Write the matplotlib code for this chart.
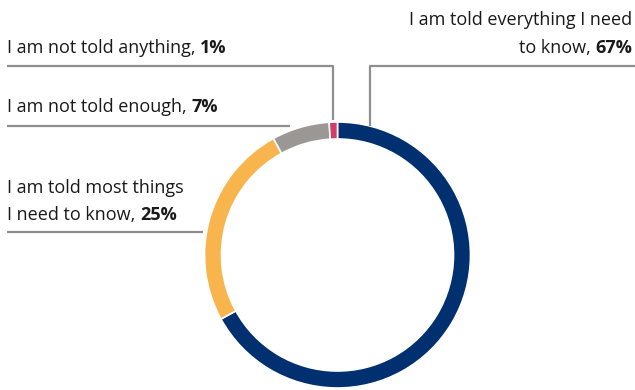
import numpy as np
import matplotlib.pyplot as plt

labels = ["I am told everything I need\nto know, ", "I am told most things\nI need to know, ",
          "I am not told enough, ", "I am not told anything, "]
values = [67, 25, 7, 1]
colors = ["#00306f", "#f8b54d", "#9b9794", "#d03f6b"]

W, H = 635, 390
plt.rcParams['font.family'] = ['Open Sans', 'DejaVu Sans']
FS = 13
LINE_C = "#8f8f8f"

fig = plt.figure(figsize=(W / 100, H / 100), dpi=100)
ax = fig.add_axes([0, 0, 1, 1])
ax.set_xlim(0, W)
ax.set_ylim(0, H)
ax.set_aspect('equal')
ax.axis('off')

cx, cy, r = 337.5, H - 255, 133
wedges, _ = ax.pie(values, colors=colors, startangle=90, counterclock=False,
                   center=(cx, cy), radius=r,
                   wedgeprops=dict(width=17, edgecolor='white', linewidth=1.2))
ax.set_xlim(0, W)
ax.set_ylim(0, H)


def y(p):
    return H - p


def point_on(w, ang):
    a = np.deg2rad(ang)
    return cx + r * np.cos(a), cy + r * np.sin(a)


def line(xs, ys):
    ax.plot(xs, [y(v) for v in ys], color=LINE_C, lw=1.6, solid_capstyle='butt')


fig.canvas.draw()
rend = fig.canvas.get_renderer()
inv = ax.transData.inverted()


def mixed(x, yb, normal, bold, ha='left'):
    if ha == 'left':
        t = ax.text(x, y(yb), normal, fontsize=FS, color='#1a1a1a', va='baseline', ha='left')
        bb = t.get_window_extent(rend)
        x2 = inv.transform((bb.x1, 0))[0]
        ax.text(x2, y(yb), bold, fontsize=FS, color='#1a1a1a', va='baseline', ha='left',
                fontweight='bold')
    else:
        t = ax.text(x, y(yb), bold, fontsize=FS, color='#1a1a1a', va='baseline', ha='right',
                    fontweight='bold')
        bb = t.get_window_extent(rend)
        x2 = inv.transform((bb.x0, 0))[0]
        ax.text(x2, y(yb), normal, fontsize=FS, color='#1a1a1a', va='baseline', ha='right')


# 67%
ax.text(632, y(25), labels[0].split("\n")[0], fontsize=FS, color='#1a1a1a',
        va='baseline', ha='right')
mixed(632, 53, labels[0].split("\n")[1], f"{values[0]}%", ha='right')
ex, ey = point_on(wedges[0], 76)
line([ex, ex, W], [H - ey, 66, 66])

# 1%
mixed(7, 53, labels[3], f"{values[3]}%")
a = (wedges[3].theta1 + wedges[3].theta2) / 2
px, py = point_on(wedges[3], a)
line([px, px, 7], [H - py - 2, 66, 66])

# 7%
mixed(7, 112, labels[2], f"{values[2]}%")
line([7, 290], [126, 126])

# 25%
ax.text(7, y(193), labels[1].split("\n")[0], fontsize=FS, color='#1a1a1a',
        va='baseline', ha='left')
mixed(7, 220, labels[1].split("\n")[1], f"{values[1]}%")
line([7, 203], [232, 232])

fig.savefig("out.png", dpi=100)
